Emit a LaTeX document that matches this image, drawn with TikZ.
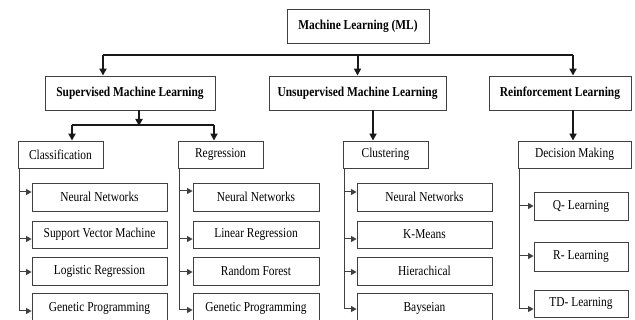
\documentclass[tikz,border=0pt]{standalone}
\usepackage{fontspec}
\setmainfont{Liberation Serif}[FakeStretch=0.84]
\usetikzlibrary{arrows.meta}
\begin{document}
\begin{tikzpicture}[x=1pt,y=-1pt,
  box/.style={draw=black!75,line width=0.9pt,inner sep=0pt,fill=white,font=\fontsize{13.6}{15}\selectfont},
  topbox/.style={box,font=\fontsize{13.6}{15}\selectfont\bfseries,minimum height=34pt},
  midbox/.style={box,minimum height=27pt,minimum width=85pt},
  hi/.style={draw=black!90,line width=2pt},
  hiarr/.style={hi,-{Triangle[length=7pt,width=7pt]}},
  lo/.style={draw=black!75,line width=1pt},
  loarr/.style={lo,-{Triangle[length=5.5pt,width=6pt]}}]
\useasboundingbox (0,0) rectangle (635,320);
\clip (0,0) rectangle (635,320);
\fill[white] (0,0) rectangle (635,320);

% top level
\node[topbox,minimum width=142pt] (ml) at (358,26) {Machine Learning (ML)};
\node[topbox,minimum width=170pt] (sup) at (130,93) {Supervised Machine Learning};
\node[topbox,minimum width=177pt] (uns) at (357.5,93) {Unsupervised Machine Learning};
\node[topbox,minimum width=142pt] (rein) at (560,93) {Reinforcement Learning};

% second level
\node[midbox] (cls) at (60.5,154.5) {Classification};
\node[midbox] (reg) at (220.5,154.5) {Regression};
\node[midbox] (clu) at (385.5,154.5) {Clustering};
\node[midbox,minimum width=113pt] (dec) at (574.5,154.5) {Decision Making};

% items column 1
\node[box,minimum width=135pt,minimum height=28pt] (a1) at (99.5,197) {Neural Networks};
\node[box,minimum width=135pt,minimum height=27pt] (a2) at (99.5,234.5) {Support Vector Machine};
\node[box,minimum width=135pt,minimum height=28pt] (a3) at (99.5,271) {Logistic Regression};
\node[box,minimum width=135pt,minimum height=30pt] (a4) at (99.5,308) {Genetic Programming};
% column 2
\node[box,minimum width=126pt,minimum height=28pt] (b1) at (256,197) {Neural Networks};
\node[box,minimum width=126pt,minimum height=27pt] (b2) at (256,234.5) {Linear Regression};
\node[box,minimum width=126pt,minimum height=28pt] (b3) at (256,271) {Random Forest};
\node[box,minimum width=126pt,minimum height=30pt] (b4) at (256,308) {Genetic Programming};
% column 3
\node[box,minimum width=135pt,minimum height=28pt] (c1) at (424.5,197) {Neural Networks};
\node[box,minimum width=135pt,minimum height=27pt] (c2) at (424.5,234.5) {K-Means};
\node[box,minimum width=135pt,minimum height=28pt] (c3) at (424.5,271) {Hierachical};
\node[box,minimum width=135pt,minimum height=30pt] (c4) at (424.5,308) {Bayseian};
% column 4
\node[box,minimum width=94pt,minimum height=28pt] (d1) at (581,206) {Q- Learning};
\node[box,minimum width=94pt,minimum height=29pt] (d2) at (581,256.5) {R- Learning};
\node[box,minimum width=94pt,minimum height=27pt] (d3) at (581,303.5) {TD- Learning};

% upper connectors
\coordinate (busL) at (103,55);
\coordinate (busM) at (357.5,55);
\coordinate (busR) at (573,55);
\draw[hi] (busL) -- (busR);
\draw[hiarr] (busL) -- (busL |- sup.north);
\draw[hiarr] (busM) -- (uns.north);
\draw[hiarr] (busR) -- (busR |- rein.north);

\coordinate (sbL) at (72,125);
\coordinate (sbM) at (139,125);
\coordinate (sbR) at (214,125);
\draw[hiarr] (sbM |- sup.south) -- ([yshift=-1pt]sbM);
\draw[hi] (sbL) -- (sbR);
\draw[hiarr] (sbL) -- (sbL |- cls.north);
\draw[hiarr] (sbR) -- (sbR |- reg.north);

\coordinate (ux) at (373,0);
\draw[hiarr] (ux |- uns.south) -- (ux |- clu.north);
\coordinate (rx) at (573,0);
\draw[hiarr] (rx |- rein.south) -- (rx |- dec.north);

% trunk x positions
\coordinate (t1) at (19,0);
\coordinate (t2) at (179,0);
\coordinate (t3) at (344,0);
\coordinate (t4) at (519,0);

% arrow points
\coordinate (pa1) at ([yshift=5pt]a1.west);
\coordinate (pa2) at ([yshift=-4.5pt]a2.west);
\coordinate (pa3) at ([yshift=-1pt]a3.west);
\coordinate (pa4) at ([yshift=-3pt]a4.west);
\coordinate (pb1) at ([yshift=6pt]b1.west);
\coordinate (pb2) at ([yshift=-4.5pt]b2.west);
\coordinate (pb3) at ([yshift=-1pt]b3.west);
\coordinate (pb4) at ([yshift=-2pt]b4.west);
\coordinate (pc1) at ([yshift=5pt]c1.west);
\coordinate (pc2) at ([yshift=-4.5pt]c2.west);
\coordinate (pc3) at ([yshift=-1pt]c3.west);
\coordinate (pc4) at ([yshift=-1pt]c4.west);
\coordinate (pd1) at (d1.west);
\coordinate (pd2) at ([yshift=0.5pt]d2.west);
\coordinate (pd3) at ([yshift=-5.5pt]d3.west);

% column 1
\draw[loarr] (t1 |- cls.south) |- (pa4);
\draw[loarr] (t1 |- pa1) -- (pa1);
\draw[loarr] (t1 |- pa2) -- (pa2);
\draw[loarr] (t1 |- pa3) -- (pa3);
% column 2
\draw[loarr] (t2 |- reg.south) |- (pb4);
\draw[loarr] (t2 |- pb1) -- (pb1);
\draw[loarr] (t2 |- pb2) -- (pb2);
\draw[loarr] (t2 |- pb3) -- (pb3);
% column 3
\draw[loarr] (t3 |- clu.south) |- (pc4);
\draw[loarr] (t3 |- pc1) -- (pc1);
\draw[loarr] (t3 |- pc2) -- (pc2);
\draw[loarr] (t3 |- pc3) -- (pc3);
% column 4
\draw[loarr] (t4 |- dec.south) |- (pd3);
\draw[loarr] (t4 |- pd1) -- (pd1);
\draw[loarr] (t4 |- pd2) -- (pd2);
\end{tikzpicture}
\end{document}
